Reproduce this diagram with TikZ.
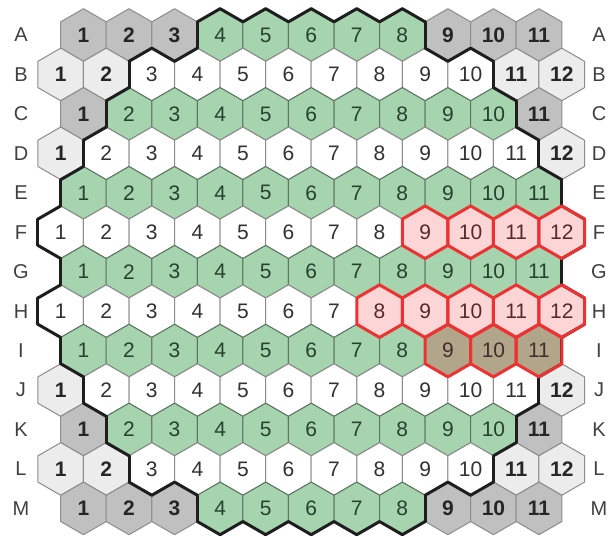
\documentclass[tikz,border=0pt]{standalone}
\usepackage{fontspec}
\setmainfont{Liberation Sans}
\definecolor{hexGreen}{RGB}{166,212,175}
\definecolor{hexDark}{RGB}{192,192,192}
\definecolor{hexLight}{RGB}{236,236,236}
\definecolor{hexPink}{RGB}{252,214,214}
\definecolor{hexBrown}{RGB}{178,166,138}
\definecolor{rimRed}{RGB}{236,50,50}
\definecolor{rimBlack}{RGB}{30,30,30}
\definecolor{numGray}{RGB}{50,50,50}
\definecolor{numGreen}{RGB}{38,66,46}
\tikzset{
  hexcell/.style={draw=black!45, line width=1pt, line join=round},
  hexd/.style={hexcell, fill=hexDark},
  hexl/.style={hexcell, fill=hexLight},
  hexw/.style={hexcell, fill=white},
  hexg/.style={hexcell, draw=hexGreen!55!black, fill=hexGreen},
  hexp/.style={hexcell, fill=hexPink},
  hexb/.style={hexcell, fill=hexBrown},
  num/.style={inner sep=0pt, font=\fontsize{21}{21}\selectfont, text=numGray},
  numd/.style={num, font=\fontsize{21}{21}\selectfont\bfseries, text=black!85},
  numl/.style={numd},
  numw/.style={num},
  numg/.style={num, text=numGreen},
  nump/.style={num, text=numGray!80!red},
  numb/.style={num, text=numGray!90!red},
  rowlabel/.style={font=\fontsize{20}{20}\selectfont, text=black!75},
  rim/.style={draw=rimBlack, line width=3pt, line cap=round},
  redrim/.style={draw=rimRed, line width=3pt, line join=round}
}
% hexagon outline round the current point
\def\R{26.3}
\newcommand\hexpath{+(30:\R) -- +(90:\R) -- +(150:\R) -- +(210:\R) -- +(270:\R) -- +(330:\R) -- cycle}
% first and last field of the play area in each row (padded)
\def\lo{{99,4,3,2,2,1,1,1,1,1,2,2,3,4,99}}
\def\hi{{0,8,10,10,11,11,12,11,12,11,11,10,10,8,0}}
\begin{document}
\begin{tikzpicture}[x=1pt, y=1pt]
  \useasboundingbox (0,0) rectangle (608,-537);

  % fields, row by row
  \foreach \r/\lab/\cells in {
      0/A/{d,d,d,g,g,g,g,g,d,d,d},
      1/B/{l,l,w,w,w,w,w,w,w,w,l,l},
      2/C/{d,g,g,g,g,g,g,g,g,g,d},
      3/D/{l,w,w,w,w,w,w,w,w,w,w,l},
      4/E/{g,g,g,g,g,g,g,g,g,g,g},
      5/F/{w,w,w,w,w,w,w,w,p,p,p,p},
      6/G/{g,g,g,g,g,g,g,g,g,g,g},
      7/H/{w,w,w,w,w,w,w,p,p,p,p,p},
      8/I/{g,g,g,g,g,g,g,g,b,b,b},
      9/J/{l,w,w,w,w,w,w,w,w,w,w,l},
      10/K/{d,g,g,g,g,g,g,g,g,g,d},
      11/L/{l,l,w,w,w,w,w,w,w,w,l,l},
      12/M/{d,d,d,g,g,g,g,g,d,d,d}} {
    \pgfmathsetmacro\y{-35-\r*39.45}
    \node[rowlabel] (\lab-left) at (21,\y) {\lab};
    \node[rowlabel] (\lab-right) at (599,\y) {\lab};
    \foreach \t [count=\c] in \cells {
      \pgfmathsetmacro\x{60.7+(\c-1)*45.55+22.775*(1-mod(\r,2))}
      \filldraw[hex\t] (\x,\y) \hexpath;
      \node[num\t] (\lab\c) at (\x,\y) {\c};
    }
  }

  % border of the play area
  \foreach \r/\lab in {0/A,1/B,2/C,3/D,4/E,5/F,6/G,7/H,8/I,9/J,10/K,11/L,12/M} {
    \pgfmathtruncatemacro\s{1-mod(\r,2)}
    \pgfmathtruncatemacro\first{\lo[\r+1]}
    \pgfmathtruncatemacro\last{\hi[\r+1]}
    \foreach \c in {\first,...,\last} {
      \foreach \a/\dr/\dc in {-30/0/1, 30/-1/\s, 90/-1/\s-1, 150/0/-1, 210/1/\s-1, 270/1/\s} {
        \pgfmathtruncatemacro\nr{\r+\dr}
        \pgfmathtruncatemacro\nc{\c+\dc}
        \pgfmathtruncatemacro\inside{and(\nc>=\lo[\nr+1], \nc<=\hi[\nr+1])}
        \ifnum\inside=0
          \draw[rim] ([shift={(\a:\R)}]\lab\c.center) -- ([shift={(\a+60:\R)}]\lab\c.center);
        \fi
      }
    }
  }

  % marked fields
  \foreach \n in {F9,F10,F11,F12,H8,H9,H10,H11,H12,I9,I10,I11}
    \draw[redrim] (\n.center) \hexpath;
\end{tikzpicture}
\end{document}
